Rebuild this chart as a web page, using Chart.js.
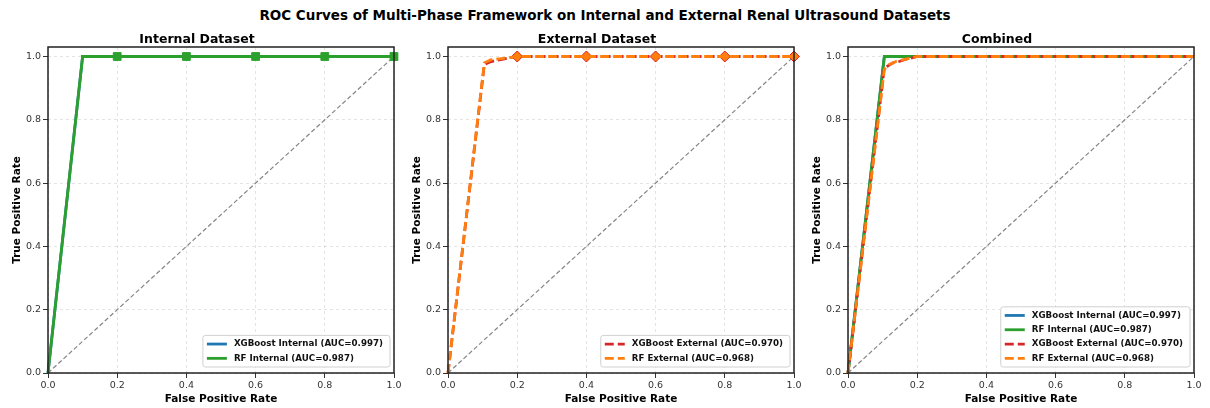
<!DOCTYPE html>
<html>
<head>
<meta charset="utf-8">
<script src="https://cdn.jsdelivr.net/npm/chart.js@4.4.0/dist/chart.umd.min.js"></script>
<style>
  body { margin: 0; background: #fff; width: 1210px; height: 408px; overflow: hidden; position: relative; }
  #title { position: absolute; top: 7px; left: 0; width: 1210px; text-align: center; font: bold 13.5px 'DejaVu Sans', sans-serif; line-height: 16px; color: #000; }
  .panel { position: absolute; top: 28px; height: 380px; width: 407px; }
</style>
</head>
<body>
<div id="title">ROC Curves of Multi-Phase Framework on Internal and External Renal Ultrasound Datasets</div>
<div class="panel" style="left:0px"><canvas id="chartInternal"></canvas></div>
<div class="panel" style="left:400px"><canvas id="chartExternal"></canvas></div>
<div class="panel" style="left:800px"><canvas id="chartCombined"></canvas></div>
<script>
// axis ticks
const tickVals = [0, 0.2, 0.4, 0.6, 0.8, 1.0];
const markFpr = [0.2, 0.4, 0.6, 0.8, 1.0];
const diagFpr = [0, 1];
const diagTpr = [0, 1];

// Internal dataset
const xgbIntFpr = [0, 0.1, 0.2, 0.4, 0.6, 0.8, 1.0];
const xgbIntTpr = [0, 1, 1, 1, 1, 1, 1];
const rfIntFpr = [0, 0.1, 0.13, 0.2, 0.4, 0.6, 0.8, 1.0];
const rfIntTpr = [0, 1, 1, 1, 1, 1, 1, 1];

// External dataset
const xgbExtFpr = [0, 0.105, 0.12, 0.14, 0.16, 0.18, 0.2, 0.4, 0.6, 0.8, 1.0];
const xgbExtTpr = [0, 0.975, 0.982, 0.988, 0.992, 0.996, 1, 1, 1, 1, 1];
const rfExtFpr = [0, 0.105, 0.125, 0.16, 0.2, 0.4, 0.6, 0.8, 1.0];
const rfExtTpr = [0, 0.98, 0.99, 0.994, 1, 1, 1, 1, 1];

// Combined
const xgbCombIntFpr = [0, 0.105, 1.0];
const xgbCombIntTpr = [0, 1, 1];
const rfCombIntFpr = [0, 0.105, 0.12, 1.0];
const rfCombIntTpr = [0, 1, 1, 1];
const xgbCombExtFpr = [0, 0.105, 0.115, 0.13, 0.15, 0.17, 0.19, 0.2, 1.0];
const xgbCombExtTpr = [0, 0.965, 0.97, 0.98, 0.985, 0.992, 0.997, 1, 1];
const rfCombExtFpr = [0, 0.105, 0.12, 0.14, 0.16, 0.18, 0.2, 1.0];
const rfCombExtTpr = [0, 0.96, 0.975, 0.985, 0.99, 0.995, 1, 1];

const labels = {
  xgbInt: 'XGBoost Internal (AUC=0.997)',
  rfInt: 'RF Internal (AUC=0.987)',
  xgbExt: 'XGBoost External (AUC=0.970)',
  rfExt: 'RF External (AUC=0.968)'
};

const fontFam = "'DejaVu Sans', sans-serif";
const BLUE = '#1f77b4', GREEN = '#2ca02c', RED = '#d62728', ORANGE = '#ff7f0e';

function pts(xs, ys) { return xs.map((x, i) => ({ x: x, y: ys[i] })); }
function marks(xs, r) { return xs.map(x => markFpr.some(m => Math.abs(m - x) < 1e-9) ? r : 0); }

function series(label, xs, ys, color, opts) {
  return Object.assign({
    label: label,
    data: pts(xs, ys),
    showLine: true,
    borderColor: color,
    backgroundColor: color,
    pointBackgroundColor: color,
    pointBorderColor: color,
    pointBorderWidth: 1,
    borderWidth: 2.8,
    pointRadius: 0,
    pointHoverRadius: 0,
    clip: false
  }, opts || {});
}

function diagonal() {
  return {
    data: pts(diagFpr, diagTpr),
    showLine: true,
    borderColor: 'rgba(120,120,120,0.9)',
    borderWidth: 1.2,
    borderDash: [4.5, 2.5],
    pointRadius: 0,
    order: 10
  };
}

const boxAndLegend = {
  id: 'boxAndLegend',
  afterDatasetsDraw(chart) {
    const a = chart.chartArea, ctx = chart.ctx;
    ctx.save();
    ctx.strokeStyle = '#222';
    ctx.lineWidth = 1.5;
    ctx.strokeRect(a.left, a.top, a.right - a.left, a.bottom - a.top);
    ctx.restore();
  },
  afterDraw(chart) {
    const a = chart.chartArea, ctx = chart.ctx;
    const items = chart.data.datasets.filter(d => d.label);
    ctx.save();
    ctx.font = 'bold 8.7px ' + fontFam;
    const tw = Math.max(...items.map(d => ctx.measureText(d.label).width));
    const rowH = 14.3;
    const w = 31 + tw + 7, h = items.length * rowH + 3;
    const x0 = a.right - 4 - w, y0 = a.bottom - 6 - h;
    ctx.beginPath();
    ctx.roundRect(x0, y0, w, h, 2.5);
    ctx.fillStyle = 'rgba(255,255,255,0.85)';
    ctx.fill();
    ctx.strokeStyle = '#d0d0d0';
    ctx.lineWidth = 1;
    ctx.stroke();
    items.forEach((d, i) => {
      const y = y0 + 1.5 + rowH * (i + 0.5);
      ctx.beginPath();
      ctx.setLineDash(d.borderDash || []);
      ctx.strokeStyle = d.borderColor;
      ctx.lineWidth = d.borderWidth;
      ctx.moveTo(x0 + 4, y);
      ctx.lineTo(x0 + 24, y);
      ctx.stroke();
      ctx.setLineDash([]);
      ctx.fillStyle = '#111';
      ctx.textBaseline = 'middle';
      ctx.fillText(d.label, x0 + 31, y);
    });
    ctx.restore();
  }
};

function axis(name, title, max) {
  const isX = name === 'x';
  return {
    type: 'linear',
    min: 0,
    max: max,
    afterBuildTicks: s => { s.ticks = tickVals.map(v => ({ value: v })); },
    afterFit: s => { if (isX) s.height = 35; else s.width = 48; },
    ticks: {
      callback: v => v.toFixed(1),
      font: { family: fontFam, size: 9.5 },
      color: '#333',
      padding: 2,
      maxRotation: 0
    },
    grid: {
      color: 'rgba(170,170,170,0.4)',
      lineWidth: 0.8,
      tickLength: 5,
      tickColor: '#333',
      tickWidth: 1
    },
    border: { display: false, dash: [3, 3] },
    title: {
      display: true,
      text: title,
      color: '#000',
      font: { family: fontFam, size: 10.5, weight: 'bold' },
      padding: isX ? { top: 0, bottom: 2 } : { top: 11, bottom: 0 }
    }
  };
}

function rocChart(id, title, datasets) {
  return new Chart(document.getElementById(id).getContext('2d'), {
    type: 'scatter',
    data: { datasets: datasets },
    options: {
      responsive: true,
      maintainAspectRatio: false,
      animation: false,
      layout: { padding: { right: 13 } },
      elements: { line: { tension: 0 } },
      plugins: {
        legend: { display: false },
        tooltip: { enabled: false },
        title: {
          display: true,
          text: title,
          color: '#000',
          font: { family: fontFam, size: 12.5, weight: 'bold' },
          padding: { top: 4, bottom: 0 }
        }
      },
      scales: {
        x: axis('x', 'False Positive Rate', 1.0),
        y: axis('y', 'True Positive Rate', 1.03)
      }
    },
    plugins: [boxAndLegend]
  });
}

rocChart('chartInternal', 'Internal Dataset', [
  series(labels.xgbInt, xgbIntFpr, xgbIntTpr, BLUE, { order: 2 }),
  series(labels.rfInt, rfIntFpr, rfIntTpr, GREEN, { order: 1, pointStyle: 'rect', pointRadius: marks(rfIntFpr, 5.5) }),
  diagonal()
]);

rocChart('chartExternal', 'External Dataset', [
  series(labels.xgbExt, xgbExtFpr, xgbExtTpr, RED, { order: 2, borderDash: [9, 4], pointStyle: 'rectRot', pointRadius: marks(xgbExtFpr, 5.5) }),
  series(labels.rfExt, rfExtFpr, rfExtTpr, ORANGE, { order: 1, borderDash: [9, 4], pointStyle: 'rectRot', pointRadius: marks(rfExtFpr, 4.5) }),
  diagonal()
]);

rocChart('chartCombined', 'Combined', [
  series(labels.xgbInt, xgbCombIntFpr, xgbCombIntTpr, BLUE, { order: 4 }),
  series(labels.rfInt, rfCombIntFpr, rfCombIntTpr, GREEN, { order: 3 }),
  series(labels.xgbExt, xgbCombExtFpr, xgbCombExtTpr, RED, { order: 2, borderDash: [9, 4], borderDashOffset: 2 }),
  series(labels.rfExt, rfCombExtFpr, rfCombExtTpr, ORANGE, { order: 1, borderDash: [9, 4] }),
  diagonal()
]);
</script>
</body>
</html>
